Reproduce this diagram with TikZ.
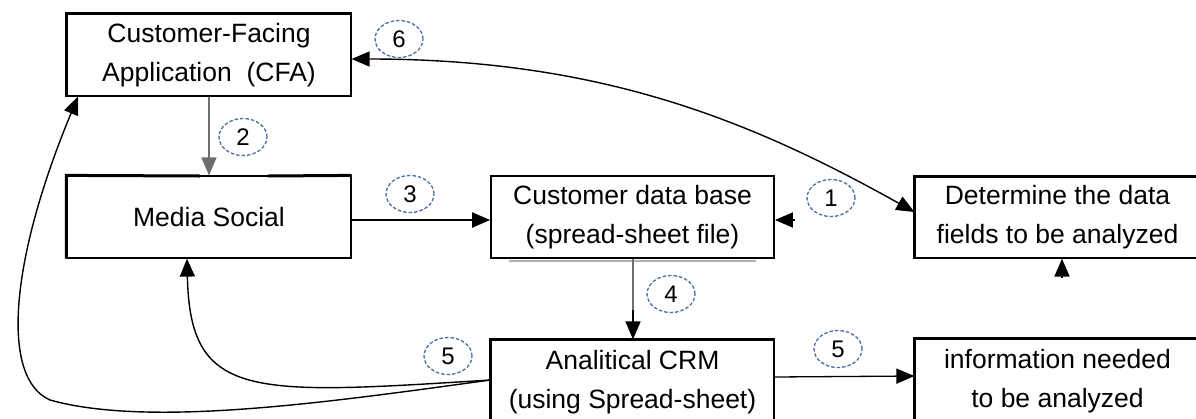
\documentclass[tikz,border=0pt]{standalone}
\usepackage{fontspec}
\setmainfont{Liberation Sans}
\usetikzlibrary{arrows.meta,shapes.geometric}
\definecolor{lbl}{HTML}{4A6FA5}
\definecolor{greyline}{HTML}{6E6E6E}
\definecolor{shadeline}{HTML}{B0B0B0}
\begin{document}
\begin{tikzpicture}[x=1pt,y=-1pt,
  box/.style={draw, line width=1.2pt, rectangle, align=center,
    font=\fontsize{26.5}{39}\selectfont, inner sep=0pt},
  num/.style={ellipse, draw=lbl, dash pattern=on 3.5pt off 2pt, line width=1.3pt,
    inner sep=0pt, minimum width=48pt, minimum height=37pt,
    font=\fontsize{24}{24}\selectfont},
  bigtip/.tip={Triangle[length=18pt,width=15pt]},
  arr/.style={-bigtip, line width=1.6pt},
  thickedge/.style={line width=3pt},
]
\useasboundingbox (0,0) rectangle (1196,418);
\clip (0,0) rectangle (1196,418);

% boxes
\node[box, minimum width=284pt, minimum height=82pt] (cfa) at (209,55)
  {Customer-Facing\\Application\ \ (CFA)};
\node[box, minimum width=284pt, minimum height=82pt] (ms) at (209,217)
  {Media Social};
\node[box, line width=1.8pt, minimum width=283pt, minimum height=82pt] (cdb) at (632.5,217)
  {Customer data base\\(spread-sheet file)};
\node[box, minimum width=283pt, minimum height=84pt] (crm) at (632.5,382)
  {Analitical CRM\\(using Spread-sheet)};
\node[box, minimum width=285pt, minimum height=81pt] (det) at (1057.5,217.5)
  {Determine the data\\fields to be analyzed};
\node[box, minimum width=285pt, minimum height=84pt] (info) at (1057.5,381)
  {information needed\\to be analyzed};

% thicker top and left edges
\foreach \b in {cfa,crm,det,info}{
  \draw[thickedge] (\b.south west) -- (\b.north west) -- (\b.north east);
}
\draw[thickedge] (ms.south west) -- (ms.north west) -- (200,176);
\draw[thickedge] (268,176) -- (ms.north east);
\draw[shadeline, line width=2pt] (509,260.5) -- (756,260.5);

% number labels
\node[num] (n6) at (399,39) {6};
\node[num] (n2) at (243,137) {2};
\node[num] (n3) at (410,194) {3};
\node[num] (n1) at (831,198) {1};
\node[num] (n4) at (671,294) {4};
\node[num] (n5a) at (448,356) {5};
\node[num] (n5b) at (838,349) {5};

% connectors
\draw[arr, greyline, line width=1.4pt] (cfa) -- (ms);
\draw[arr, line width=2.2pt] ([yshift=-3pt]ms.east) -- ([yshift=-3pt]cdb.west);
\coordinate (t1) at (795,220);
\draw[arr] (t1) -- (t1 -| cdb.east);
\coordinate (m4) at (633,310);
\draw[greyline, line width=1.6pt] (cdb.south -| m4) -- (m4);
\draw[arr] (m4) -- (m4 |- crm.north);
\draw[arr, line width=1.3pt] ([yshift=5pt]crm.east) -- ([yshift=5pt]info.west);
\coordinate (t2) at (1062,278);
\draw[arr] (t2) -- (t2 |- det.south);
\draw[bigtip-bigtip, line width=1.4pt]
  ([yshift=-4pt]cfa.east) .. controls (600,59) and (750,120) .. ([yshift=5.5pt]det.west);
\draw[arr, line width=1.4pt] ([yshift=2pt]crm.west) .. controls (250,395) and (190,400) .. ([xshift=-22pt]ms.south);
\draw[arr, line width=1.4pt] ([yshift=2pt]crm.west) .. controls (330,402) and (150,428) .. (50,400)
  .. controls (0,378) and (10,260) .. ([xshift=-131pt]cfa.south);
\end{tikzpicture}
\end{document}
